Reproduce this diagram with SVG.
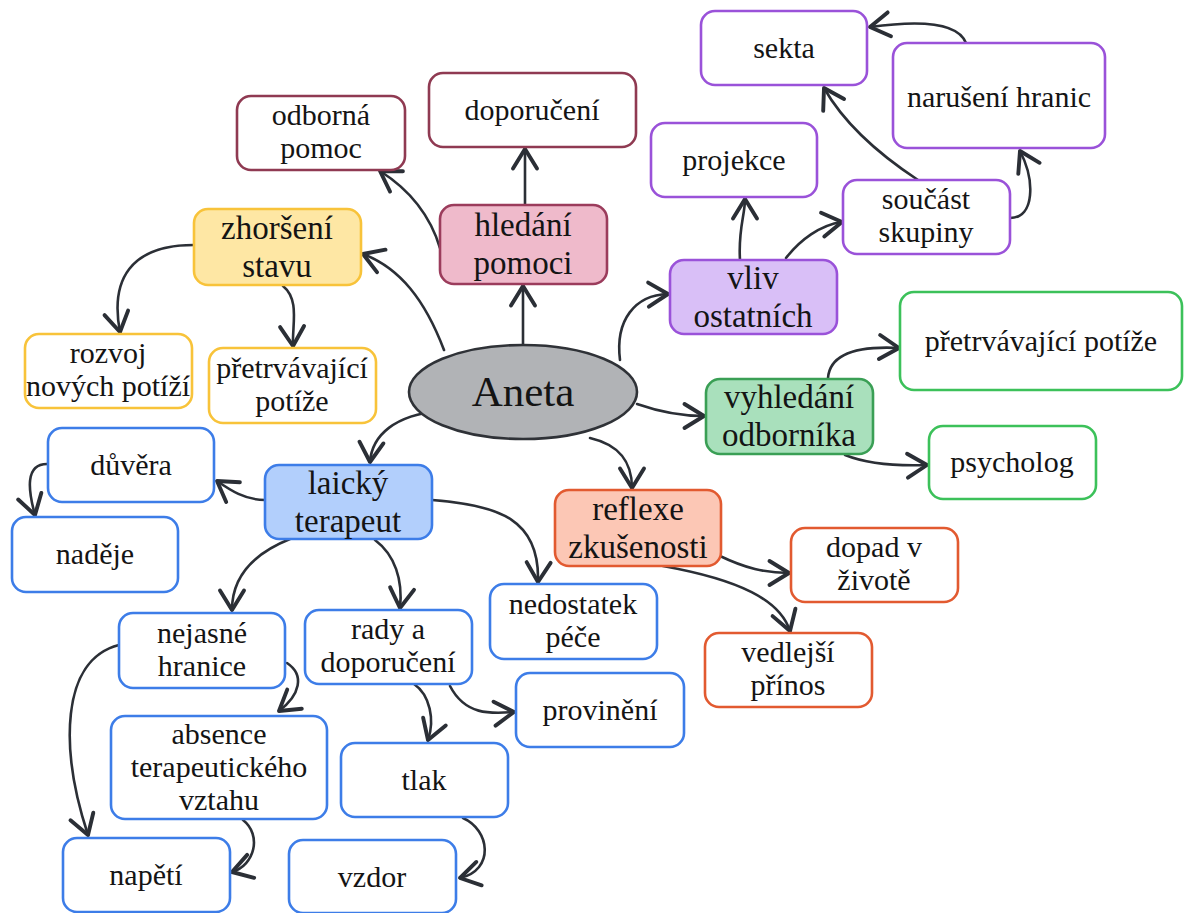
<svg xmlns="http://www.w3.org/2000/svg" width="1188" height="913" viewBox="0 0 1188 913">
<defs>
<marker id="arr" markerUnits="userSpaceOnUse" markerWidth="30" markerHeight="30" viewBox="-16 -10 20 20" refX="0" refY="0" orient="auto">
<path d="M-13,-8 L0,0 L-13,8" fill="none" stroke="#2b2f36" stroke-width="2.6" stroke-linecap="round" stroke-linejoin="round"/>
</marker>
</defs>
<style>
text{font-family:"Liberation Serif","DejaVu Serif",serif;font-size:30px;fill:#141414;text-anchor:middle}
.main text{font-size:33px}
rect{stroke-width:2.6}
.rose{fill:#fff;stroke:#8f3a52}
.rosef{fill:#efbacb;stroke:#9b3c5c}
.yel{fill:#fff;stroke:#f8c33a}
.yelf{fill:#fee7a4;stroke:#f8c33a}
.pur{fill:#fff;stroke:#9a52d9}
.purf{fill:#d9bff7;stroke:#9a52d9}
.grn{fill:#fff;stroke:#3cc15a}
.grnf{fill:#a9e0bc;stroke:#3a9f55}
.org{fill:#fff;stroke:#e25a30}
.orgf{fill:#fcc7b5;stroke:#e25a30}
.blu{fill:#fff;stroke:#3d7de8}
.bluf{fill:#b2cffc;stroke:#3d7de8}
#edges path{fill:none;stroke:#2b2f36;stroke-width:2.6;stroke-linecap:round;marker-end:url(#arr)}
</style>
<rect width="1188" height="913" fill="#fff"/>

<g id="edges">
<path d="M523,345 L523,286"/>
<path d="M525,205 L525,149"/>
<path d="M440,248 C430,215 410,190 380,171"/>
<path d="M444,350 C425,300 400,268 363,254"/>
<path d="M194,245 C130,245 110,280 120,332"/>
<path d="M283,286 C300,300 292,325 293,346"/>
<path d="M620,360 C615,320 635,295 668,294"/>
<path d="M740,260 C738,230 745,215 745,199"/>
<path d="M786,258 C800,240 820,225 842,222"/>
<path d="M918,180 C880,155 845,125 824,88"/>
<path d="M1010,218 C1035,218 1035,180 1020,151"/>
<path d="M966,43 C958,22 920,20 870,27"/>
<path d="M637,404 C660,412 680,416 704,416"/>
<path d="M828,378 C830,352 860,346 899,348"/>
<path d="M845,455 C870,465 900,466 927,465"/>
<path d="M590,438 C620,445 632,462 632,488"/>
<path d="M720,556 C745,568 765,573 789,573"/>
<path d="M663,566 C740,580 780,600 790,631"/>
<path d="M440,411 C395,415 372,435 370,462"/>
<path d="M265,500 C245,500 230,490 217,481"/>
<path d="M47,464 C25,464 28,490 35,515"/>
<path d="M432,500 C500,505 540,520 538,582"/>
<path d="M290,539 C250,555 232,580 232,610"/>
<path d="M375,540 C395,555 403,580 400,608"/>
<path d="M287,663 C305,675 300,695 279,711"/>
<path d="M119,645 C60,660 60,750 88,835"/>
<path d="M243,820 C262,835 255,865 232,872"/>
<path d="M414,684 C430,695 435,720 428,740"/>
<path d="M450,686 C465,715 490,714 514,712"/>
<path d="M463,818 C490,830 495,870 460,878"/>
</g>

<g id="aneta">
<ellipse cx="523" cy="392" rx="114" ry="47" fill="#b1b3b6" stroke="#2f3237" stroke-width="2.6"/>
<text x="523" y="406" style="font-size:43px">Aneta</text>
</g>

<g id="hledani" class="main"><rect class="rosef" x="440" y="205" width="167" height="79" rx="14"/><text x="523" y="236">hledání</text><text x="523" y="274">pomoci</text></g>
<g id="doporuceni"><rect class="rose" x="429" y="73" width="207" height="74" rx="14"/><text x="532" y="120">doporučení</text></g>
<g id="odborna"><rect class="rose" x="237" y="96" width="168" height="74" rx="14"/><text x="321" y="125">odborná</text><text x="321" y="158">pomoc</text></g>

<g id="zhorseni" class="main"><rect class="yelf" x="194" y="209" width="167" height="76" rx="14"/><text x="277" y="239">zhoršení</text><text x="277" y="277">stavu</text></g>
<g id="rozvoj"><rect class="yel" x="25" y="334" width="167" height="74" rx="14"/><text x="108" y="363">rozvoj</text><text x="108" y="396">nových potíží</text></g>
<g id="pretrv1"><rect class="yel" x="209" y="348" width="167" height="75" rx="14"/><text x="292" y="378">přetrvávající</text><text x="292" y="411">potíže</text></g>

<g id="vliv" class="main"><rect class="purf" x="670" y="260" width="167" height="74" rx="14"/><text x="753" y="289">vliv</text><text x="753" y="327">ostatních</text></g>
<g id="projekce"><rect class="pur" x="651" y="123" width="166" height="74" rx="14"/><text x="734" y="170">projekce</text></g>
<g id="sekta"><rect class="pur" x="701" y="11" width="166" height="74" rx="14"/><text x="784" y="58">sekta</text></g>
<g id="naruseni"><rect class="pur" x="893" y="43" width="212" height="105" rx="14"/><text x="999" y="107">narušení hranic</text></g>
<g id="soucast"><rect class="pur" x="843" y="180" width="167" height="74" rx="14"/><text x="926" y="209">součást</text><text x="926" y="242">skupiny</text></g>

<g id="vyhledani" class="main"><rect class="grnf" x="706" y="379" width="167" height="75" rx="14"/><text x="789" y="408">vyhledání</text><text x="789" y="446">odborníka</text></g>
<g id="pretrv2"><rect class="grn" x="900" y="292" width="282" height="98" rx="14"/><text x="1041" y="351">přetrvávající potíže</text></g>
<g id="psycholog"><rect class="grn" x="929" y="426" width="167" height="73" rx="14"/><text x="1012" y="472">psycholog</text></g>

<g id="reflexe" class="main"><rect class="orgf" x="555" y="490" width="166" height="76" rx="14"/><text x="638" y="520">reflexe</text><text x="638" y="558">zkušenosti</text></g>
<g id="dopad"><rect class="org" x="791" y="528" width="167" height="74" rx="14"/><text x="874" y="557">dopad v</text><text x="874" y="590">životě</text></g>
<g id="vedlejsi"><rect class="org" x="705" y="633" width="167" height="74" rx="14"/><text x="788" y="662">vedlejší</text><text x="788" y="695">přínos</text></g>

<g id="laicky" class="main"><rect class="bluf" x="265" y="465" width="167" height="74" rx="14"/><text x="348" y="494">laický</text><text x="348" y="532">terapeut</text></g>
<g id="duvera"><rect class="blu" x="48" y="428" width="166" height="74" rx="14"/><text x="131" y="475">důvěra</text></g>
<g id="nadeje"><rect class="blu" x="12" y="517" width="166" height="75" rx="14"/><text x="95" y="564">naděje</text></g>
<g id="nedostatek"><rect class="blu" x="490" y="584" width="167" height="75" rx="14"/><text x="573" y="614">nedostatek</text><text x="573" y="647">péče</text></g>
<g id="nejasne"><rect class="blu" x="119" y="613" width="166" height="75" rx="14"/><text x="202" y="643">nejasné</text><text x="202" y="676">hranice</text></g>
<g id="rady"><rect class="blu" x="305" y="610" width="167" height="74" rx="14"/><text x="388" y="639">rady a</text><text x="388" y="672">doporučení</text></g>
<g id="provineni"><rect class="blu" x="516" y="673" width="168" height="74" rx="14"/><text x="600" y="720">provinění</text></g>
<g id="absence"><rect class="blu" x="111" y="716" width="216" height="103" rx="14"/><text x="219" y="744">absence</text><text x="219" y="777">terapeutického</text><text x="219" y="810">vztahu</text></g>
<g id="tlak"><rect class="blu" x="341" y="743" width="167" height="74" rx="14"/><text x="424" y="790">tlak</text></g>
<g id="napeti"><rect class="blu" x="63" y="838" width="167" height="74" rx="14"/><text x="146" y="885">napětí</text></g>
<g id="vzdor"><rect class="blu" x="289" y="840" width="167" height="73" rx="14"/><text x="372" y="887">vzdor</text></g>
</svg>
